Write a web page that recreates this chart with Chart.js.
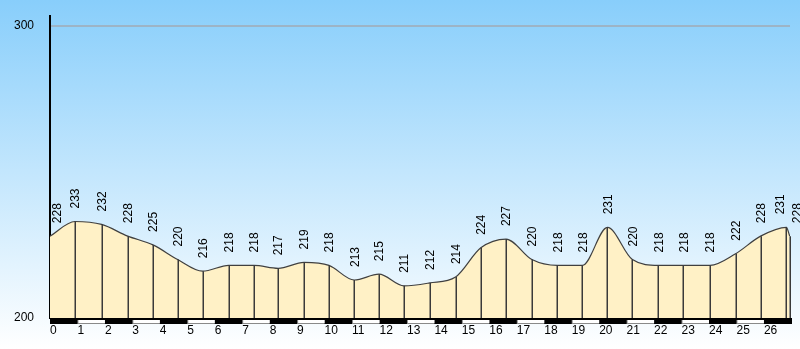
<!DOCTYPE html>
<html>
<head>
<meta charset="utf-8">
<script src="https://cdn.jsdelivr.net/npm/chart.js@4.4.1/dist/chart.umd.min.js"></script>
<style>
  html, body { margin: 0; padding: 0; background: #fff; }
  #wrap { width: 800px; height: 349px; }
</style>
</head>
<body>
<div id="wrap"><canvas id="profile" width="800" height="349"></canvas></div>
<script>
// route profile: distance (km) and elevation (m) at each sample
const distances = [0, 0.91, 1.88, 2.83, 3.75, 4.65, 5.56, 6.51, 7.43, 8.31, 9.25, 10.16,
  11.08, 11.98, 12.89, 13.83, 14.77, 15.69, 16.61, 17.55, 18.48, 19.39, 20.30, 21.21,
  22.16, 23.07, 24.04, 24.97, 25.88, 26.82, 26.94];
const elevations = [228, 233, 232, 228, 225, 220, 216, 218, 218, 217, 219, 218, 213, 215,
  211, 212, 214, 224, 227, 220, 218, 218, 231, 220, 218, 218, 218, 222, 228, 231, 228];
const kmTicks = [0, 1, 2, 3, 4, 5, 6, 7, 8, 9, 10, 11, 12, 13, 14, 15, 16, 17, 18, 19,
  20, 21, 22, 23, 24, 25, 26];
const elevTicks = [200, 300];

const FONT = "'Liberation Sans', Arial, sans-serif";

// sky gradient behind everything
const skyBackground = {
  id: 'skyBackground',
  beforeDraw(chart) {
    const { ctx, width, height } = chart;
    const g = ctx.createLinearGradient(0, 0, 0, height);
    g.addColorStop(0, '#88cefb');
    g.addColorStop(1, '#ffffff');
    ctx.save();
    ctx.fillStyle = g;
    ctx.fillRect(0, 0, width, height);
    ctx.restore();
  }
};

// black / white km stripe along the bottom axis
const kmStripe = {
  id: 'kmStripe',
  afterDraw(chart) {
    const { ctx, chartArea } = chart;
    const xs = chart.scales.x;
    const y0 = chartArea.bottom;
    const xEnd = chartArea.right + 2;
    ctx.save();
    ctx.fillStyle = '#000';
    ctx.fillRect(chartArea.left, y0, xEnd - chartArea.left, 6);
    kmTicks.forEach(k => {
      if (k % 2 === 0) return;
      const x0 = xs.getPixelForValue(k);
      const x1 = Math.min(xs.getPixelForValue(k + 1), xEnd);
      ctx.fillStyle = '#8a8a8a';
      ctx.fillRect(x0, y0 + 2, x1 - x0, 4);
      ctx.fillStyle = '#fff';
      ctx.fillRect(x0 + 1, y0 + 2, x1 - x0 - 1, 3);
    });
    ctx.restore();
  }
};

// drop lines under each sample + rotated elevation labels
const sampleMarks = {
  id: 'sampleMarks',
  afterDatasetsDraw(chart) {
    const { ctx, chartArea } = chart;
    const pts = chart.getDatasetMeta(0).data;
    ctx.save();
    ctx.strokeStyle = '#3a3a3a';
    ctx.lineWidth = 1.5;
    pts.forEach((p, i) => {
      if (i === 0) return;
      ctx.beginPath();
      ctx.moveTo(Math.round(p.x) + 0.25, p.y);
      ctx.lineTo(Math.round(p.x) + 0.25, chartArea.bottom);
      ctx.stroke();
    });

    // spread labels that would overlap
    const lx = pts.map(p => p.x + 1);
    for (let i = 1; i < lx.length; i++) {
      if (lx[i] - lx[i - 1] < 17) {
        const mid = (lx[i] + lx[i - 1]) / 2;
        lx[i - 1] = mid - 8.5;
        lx[i] = mid + 8.5;
      }
    }
    lx[0] = Math.max(lx[0], chartArea.left + 8);

    ctx.fillStyle = '#000';
    ctx.font = '12px ' + FONT;
    ctx.textAlign = 'left';
    ctx.textBaseline = 'middle';
    pts.forEach((p, i) => {
      ctx.save();
      ctx.translate(lx[i], p.y - 13);
      ctx.rotate(-Math.PI / 2);
      ctx.fillText(String(elevations[i]), 0, 0);
      ctx.restore();
    });
    ctx.restore();
  }
};

new Chart(document.getElementById('profile'), {
  type: 'line',
  data: {
    datasets: [{
      data: distances.map((d, i) => ({ x: d, y: elevations[i] })),
      borderColor: '#404040',
      borderWidth: 1.2,
      backgroundColor: '#fff1c6',
      fill: 'start',
      cubicInterpolationMode: 'monotone',
      pointRadius: 0
    }]
  },
  options: {
    responsive: false,
    animation: false,
    devicePixelRatio: 1,
    layout: { padding: { top: 16, right: 10, left: 0, bottom: 0 } },
    plugins: { legend: { display: false }, tooltip: { enabled: false } },
    scales: {
      x: {
        type: 'linear',
        min: 0,
        max: 26.95,
        afterBuildTicks: s => { s.ticks = kmTicks.map(v => ({ value: v })); },
        afterFit: s => {
          s.height = 31;
          s.paddingLeft = 0;
          s.paddingRight = 0;
        },
        grid: { display: false },
        border: { display: false },
        ticks: {
          align: 'start',
          autoSkip: false,
          maxRotation: 0,
          padding: -3,
          color: '#000',
          font: { family: FONT, size: 12 }
        }
      },
      y: {
        min: 200,
        max: 303.3,
        afterBuildTicks: s => { s.ticks = elevTicks.map(v => ({ value: v })); },
        afterFit: s => {
          s.width = 50;
          s.paddingTop = 0;
          s.paddingBottom = 0;
        },
        grid: {
          drawTicks: false,
          lineWidth: 2,
          color: c => (c.tick && c.tick.value === 300 ? '#9db4c6' : 'rgba(0,0,0,0)')
        },
        border: { display: true, color: '#000', width: 2 },
        ticks: {
          padding: 16,
          color: '#000',
          font: { family: FONT, size: 12 }
        }
      }
    }
  },
  plugins: [skyBackground, kmStripe, sampleMarks]
});
</script>
</body>
</html>
